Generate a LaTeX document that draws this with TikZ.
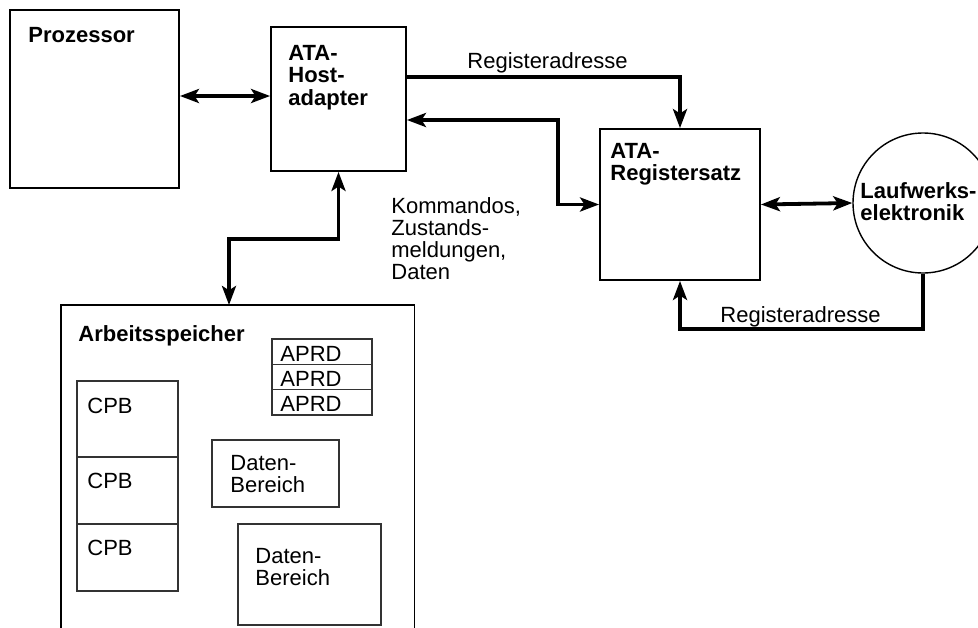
\documentclass[tikz,border=0pt]{standalone}
\usepackage{fontspec}
\setmainfont{Liberation Sans}
\usetikzlibrary{arrows.meta,fit,calc}
\begin{document}
\begin{tikzpicture}[x=0.5pt,y=-0.5pt,
  >={Stealth[length=9.5pt,width=7pt,inset=2.2pt]},
  box/.style={draw, line width=0.9pt, inner sep=0pt},
  thinbox/.style={draw=black!80, line width=0.55pt, inner sep=0pt},
  conn/.style={line width=1.9pt},
  lbl/.style={anchor=north west, inner sep=0pt, align=left, font=\fontsize{11}{11}\selectfont},
  blbl/.style={lbl, font=\fontsize{11}{11.2}\selectfont\bfseries},
  rowtxt/.style={anchor=west, inner sep=0pt, font=\fontsize{11}{11}\selectfont}
]
\useasboundingbox (0,0) rectangle (978,627);
\fill[white] (0,0) rectangle (978,627);

% main boxes
\node[box, fit={(10,10) (179,188)}] (proc) {};
\node[box, fit={(271,27) (406,171)}] (host) {};
\node[box, fit={(600,129) (760,280)}] (regs) {};
\node[draw, circle, line width=0.7pt, minimum size=70pt, inner sep=0pt] (lauf) at (923,203) {};
\node[inner sep=0pt, fit={(61,305) (414,700)}] (mem) {};
\draw[line width=0.9pt] (mem.south west) -- (mem.north west) -- (mem.north east) -- (mem.south east);

% labels of main boxes
\node[blbl] (proct) at (28,27) {Prozessor};
\node[blbl] (hostt) at (288,45) {ATA-\\Host-\\adapter};
\node[blbl] (regst) at (610,143) {ATA-\\Registersatz};
\node[blbl] (lauft) at (860,182) {Laufwerks-\\elektronik};
\node[blbl] (memt) at (78,325) {Arbeitsspeicher};

% APRD stack
\node[thinbox, fit={(272,339) (372,364.3)}] (ap1) {};
\node[thinbox, fit={(272,364.3) (372,389.7)}] (ap2) {};
\node[thinbox, fit={(272,389.7) (372,415)}] (ap3) {};
\node[rowtxt] (ap1t) at (280,354) {APRD};
\node[rowtxt] (ap2t) at (280,379) {APRD};
\node[rowtxt] (ap3t) at (280,404) {APRD};

% CPB stack
\node[thinbox, fit={(77,381) (178,457)}] (cpb1) {};
\node[thinbox, fit={(77,457) (178,524)}] (cpb2) {};
\node[thinbox, fit={(77,524) (178,591)}] (cpb3) {};
\node[lbl] (cpb1t) at (87,398) {CPB};
\node[lbl] (cpb2t) at (87,473) {CPB};
\node[lbl] (cpb3t) at (87,540) {CPB};

% Daten-Bereich boxes
\node[thinbox, fit={(212,440) (339,507)}] (db1) {};
\node[thinbox, fit={(238,524) (381,625)}] (db2) {};
\node[lbl] (db1t) at (230,455) {Daten-\\Bereich};
\node[lbl] (db2t) at (255,548) {Daten-\\Bereich};

% connector labels
\node[lbl] (ra1) at (467,52) {Registeradresse};
\node[lbl] (ra2) at (720,306) {Registeradresse};
\node[lbl] (kmd) at (391,197) {Kommandos,\\Zustands-\\meldungen,\\Daten};

% helper coordinates
\coordinate (topline) at (0,77);
\coordinate (bend) at (558,120);
\coordinate (botline) at (0,329);
\coordinate (memtop) at (229,305);

% connectors
\draw[conn,<->] (proc.east |- 0,96) -- (host.west |- 0,96);
\draw[conn,->] (host.east |- topline) -| (regs.north);
\draw[conn,<->] (host.east |- bend) -- (bend) |- (regs.west);
\draw[conn,<->] (regs.east) -- (lauf.west);
\draw[conn,->] (lauf.south) -- (lauf.south |- botline) -| (regs.south);
\draw[conn,<->] (host.south) -- ++(0,67) -| (memtop);
\end{tikzpicture}
\end{document}
